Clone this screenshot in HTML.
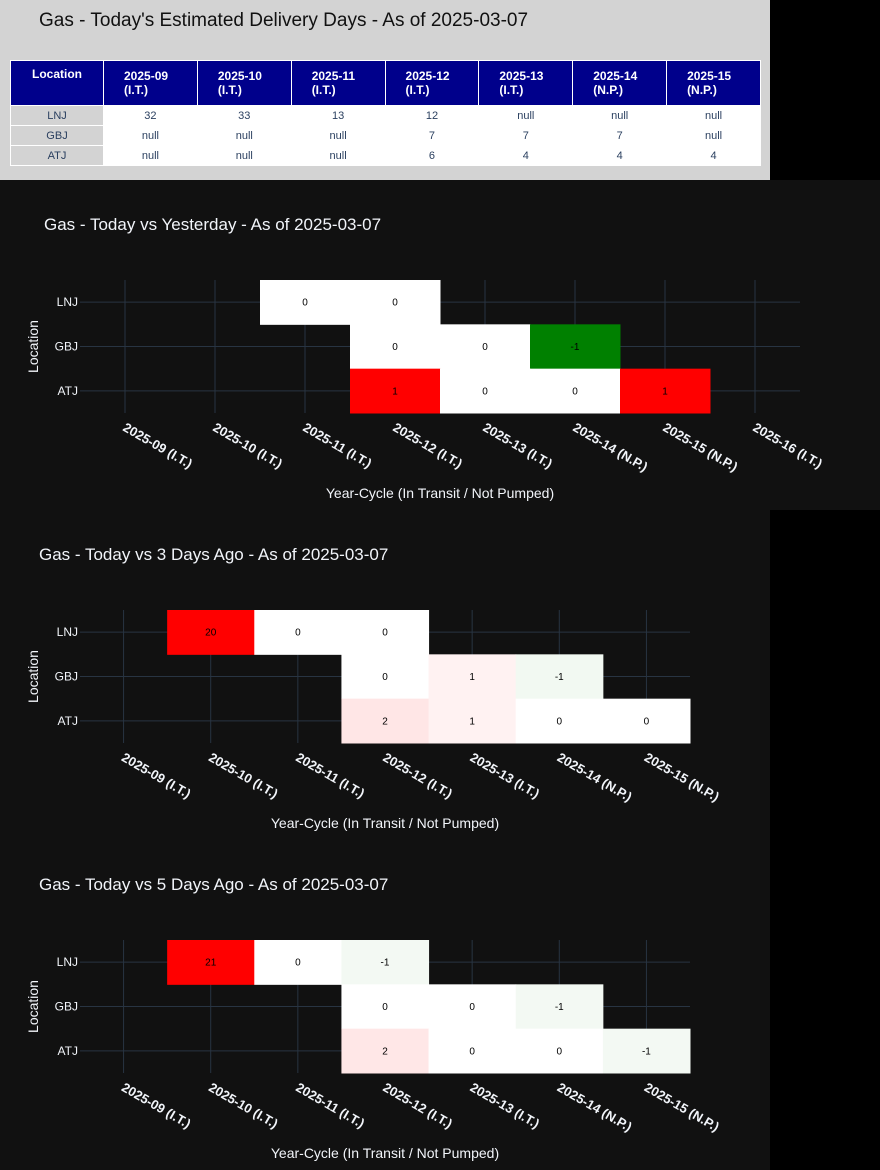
<!DOCTYPE html>
<html><head><meta charset="utf-8"><style>
body{margin:0;width:880px;height:1170px;background:#000;position:relative;overflow:hidden;font-family:"Liberation Sans",sans-serif}
#top{position:absolute;left:0;top:0;width:770px;height:180px;background:#d3d3d3}
#top h1{position:absolute;left:39px;top:10px;margin:0;font-size:19px;font-weight:normal;color:#111;white-space:nowrap}
table{position:absolute;left:10px;top:60px;border-collapse:collapse;width:751px;table-layout:fixed}
th{background:#00008b;color:#fff;font-size:12px;font-weight:bold;height:45px;border:1px solid #fff;text-align:left;padding:0 0 0 20px;vertical-align:middle;box-sizing:border-box}
th.loc{text-align:center;padding:0;vertical-align:top;padding-top:6px}
td{background:#fff;color:#2a3f5f;font-size:11px;text-align:center;height:20px;line-height:18px;border:1px solid #fff;padding:0;box-sizing:border-box}
td.loc{background:#d3d3d3;border:1px solid #fff}
svg{position:absolute;left:0}
</style></head><body>
<div id="top">
<h1>Gas - Today's Estimated Delivery Days - As of 2025-03-07</h1>
<table>
<colgroup><col style="width:93px"><col><col><col><col><col><col><col></colgroup>
<tr><th class="loc">Location</th><th>2025-09<br>(I.T.)</th><th>2025-10<br>(I.T.)</th><th>2025-11<br>(I.T.)</th><th>2025-12<br>(I.T.)</th><th>2025-13<br>(I.T.)</th><th>2025-14<br>(N.P.)</th><th>2025-15<br>(N.P.)</th></tr>
<tr><td class="loc">LNJ</td><td>32</td><td>33</td><td>13</td><td>12</td><td>null</td><td>null</td><td>null</td></tr>
<tr><td class="loc">GBJ</td><td>null</td><td>null</td><td>null</td><td>7</td><td>7</td><td>7</td><td>null</td></tr>
<tr><td class="loc">ATJ</td><td>null</td><td>null</td><td>null</td><td>6</td><td>4</td><td>4</td><td>4</td></tr>
</table></div>
<svg id="c1" width="880" height="330" style="top:180px"></svg>
<svg id="c2" width="770" height="330" style="top:510px"></svg>
<svg id="c3" width="770" height="330" style="top:840px"></svg>
<script>
const rows = ["LNJ","GBJ","ATJ"];
const cats1 = ["2025-09 (I.T.)","2025-10 (I.T.)","2025-11 (I.T.)","2025-12 (I.T.)","2025-13 (I.T.)","2025-14 (N.P.)","2025-15 (N.P.)","2025-16 (I.T.)"];
const z1LNJ = [null,null,0,0,null,null,null,null];
const z1GBJ = [null,null,null,0,0,-1,null,null];
const z1ATJ = [null,null,null,1,0,0,1,null];
const cats2 = ["2025-09 (I.T.)","2025-10 (I.T.)","2025-11 (I.T.)","2025-12 (I.T.)","2025-13 (I.T.)","2025-14 (N.P.)","2025-15 (N.P.)"];
const z2LNJ = [null,20,0,0,null,null,null];
const z2GBJ = [null,null,null,0,1,-1,null];
const z2ATJ = [null,null,null,2,1,0,0];
const cats3 = ["2025-09 (I.T.)","2025-10 (I.T.)","2025-11 (I.T.)","2025-12 (I.T.)","2025-13 (I.T.)","2025-14 (N.P.)","2025-15 (N.P.)"];
const z3LNJ = [null,21,0,-1,null,null,null];
const z3GBJ = [null,null,null,0,0,-1,null];
const z3ATJ = [null,null,null,2,0,0,-1];

const NS="http://www.w3.org/2000/svg";
function mk(svg,tag,attrs,txt){const e=document.createElementNS(NS,tag);for(const k in attrs)e.setAttribute(k,attrs[k]);if(txt!==undefined)e.textContent=txt;svg.appendChild(e);return e;}
function color(v,m){const t=Math.min(1,Math.abs(v)/m);
  if(v>=0){const g=Math.round(255*(1-t));return `rgb(255,${g},${g})`;}
  const a=Math.round(255*(1-t)),g=Math.round(255-127*t);return `rgb(${a},${g},${a})`;}
function draw(id,title,tx,cats,zs,x0,x1){
  const svg=document.getElementById(id);
  mk(svg,'rect',{x:0,y:0,width:svg.getAttribute('width'),height:330,fill:'#111'});
  const t=mk(svg,'text',{x:tx,y:50,fill:'#f2f5fa','font-size':17},title);
  
  const y0=100,y1=233;
  const bw=(x1-x0)/cats.length, xOff=x0+bw*0.5;
  const xs=i=>xOff+bw*i; const bh=(y1-y0)/rows.length; const ys=j=>y0+bh*(j+0.5);
  cats.forEach((c,i)=>{const l=mk(svg,'line',{x1:xs(i),x2:xs(i),y1:y0,y2:y1,stroke:'#283442','stroke-width':1});
    });
  rows.forEach((r,j)=>{const l=mk(svg,'line',{x1:x0,x2:x1,y1:ys(j),y2:ys(j),stroke:'#283442','stroke-width':1});
    });
  let m=0;zs.forEach(z=>z.forEach(v=>{if(v!==null)m=Math.max(m,Math.abs(v));}));if(!m)m=1;
  zs.forEach((z,j)=>z.forEach((v,i)=>{if(v===null)return;
    const r=mk(svg,'rect',{x:xs(i)-bw/2,y:ys(j)-bh/2,width:bw+0.5,height:bh+0.5,fill:color(v,m)});
    
    const tt=mk(svg,'text',{x:xs(i),y:ys(j)+3.5,'text-anchor':'middle','font-size':10,fill:'#000'},String(v));
    }));
  rows.forEach((r,j)=>{const e=mk(svg,'text',{x:x0-2,y:ys(j)+4,'text-anchor':'end','font-size':12,fill:'#f2f5fa'},r);
    });
  cats.forEach((c,i)=>{const e=mk(svg,'text',{x:0,y:0,'font-size':13,'font-weight':'bold',fill:'#f2f5fa',transform:`translate(${xs(i)-3},${y1+17}) rotate(30)`},c);
    });
  const xt=mk(svg,'text',{x:(x0+x1)/2,y:y1+85,'text-anchor':'middle','font-size':14,fill:'#f2f5fa'},'Year-Cycle (In Transit / Not Pumped)');
  
  const yt=mk(svg,'text',{x:0,y:0,'text-anchor':'middle','font-size':14,fill:'#f2f5fa',transform:`translate(38,${(y0+y1)/2}) rotate(-90)`},'Location');
  
}
draw('c1','Gas - Today vs Yesterday - As of 2025-03-07',44,cats1,[z1LNJ,z1GBJ,z1ATJ],80,800);
draw('c2','Gas - Today vs 3 Days Ago - As of 2025-03-07',39,cats2,[z2LNJ,z2GBJ,z2ATJ],80,690);
draw('c3','Gas - Today vs 5 Days Ago - As of 2025-03-07',39,cats3,[z3LNJ,z3GBJ,z3ATJ],80,690);
</script>
</body></html>
